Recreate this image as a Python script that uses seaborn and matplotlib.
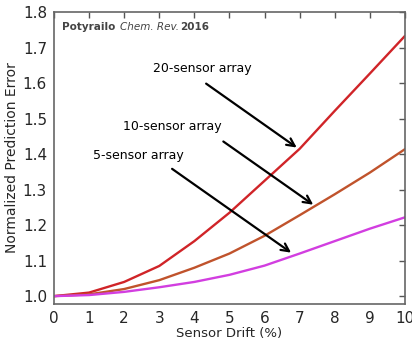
import numpy as np
import pandas as pd
import matplotlib
matplotlib.use("Agg")
import matplotlib.pyplot as plt
import seaborn as sns

# values
drift = [0, 1, 2, 3, 4, 5, 6, 7, 8, 9, 10]
err_20 = [1.0, 1.01, 1.04, 1.085, 1.155, 1.235, 1.325, 1.415, 1.522, 1.627, 1.733]
err_10 = [1.0, 1.005, 1.02, 1.045, 1.08, 1.12, 1.17, 1.228, 1.287, 1.348, 1.414]
err_5 = [1.0, 1.003, 1.012, 1.025, 1.04, 1.06, 1.086, 1.12, 1.155, 1.19, 1.222]
series = ["20-sensor array", "10-sensor array", "5-sensor array"]
colors = ["#d02428", "#c0532c", "#d23ee0"]

df = pd.concat([
    pd.DataFrame({"drift": drift, "err": e, "array": s})
    for e, s in zip([err_20, err_10, err_5], series)
])

sns.set_theme(style="white")
plt.rcParams['font.family'] = ['DejaVu Sans']

fig = plt.figure(figsize=(4.12, 3.45), dpi=100)
ax = fig.add_axes([0.131, 0.119, 0.852, 0.846])
sns.lineplot(data=df, x="drift", y="err", hue="array", palette=colors,
             linewidth=1.7, legend=False, ax=ax)

ax.set_xlim(0, 10)
ax.set_ylim(0.978, 1.8)
ax.set_xticks(range(0, 11))
ax.set_yticks([1.0, 1.1, 1.2, 1.3, 1.4, 1.5, 1.6, 1.7, 1.8])
ax.set_yticklabels(["1.0", "1.1", "1.2", "1.3", "1.4", "1.5", "1.6", "1.7", "1.8"])
ax.tick_params(direction="in", top=True, right=True, length=4, width=1,
               color="#555555", labelsize=11, pad=5)
for sp in ax.spines.values():
    sp.set_color("#666666")
    sp.set_linewidth(1.2)
ax.set_xlabel("Sensor Drift (%)", fontsize=9.5, labelpad=1)
ax.set_ylabel("Normalized Prediction Error", fontsize=10, labelpad=3)

# citation, pieces chained one after another
t1 = ax.text(0.023, 0.949, "Potyrailo", transform=ax.transAxes, fontsize=7.5,
             fontweight="bold", color="#444444", va="center")
t2 = ax.annotate("Chem. Rev.", xy=(1, 0.5), xycoords=t1, xytext=(3, 0),
                 textcoords="offset points", fontsize=7.5, style="italic",
                 color="#444444", va="center")
ax.annotate("2016", xy=(1, 0.5), xycoords=t2, xytext=(1, 0),
            textcoords="offset points", fontsize=7.5, fontweight="bold",
            color="#444444", va="center")

# labels with arrows
arrows = [
    ("20-sensor array", (2.82, 1.642), (6.98, 1.414), (4.27, 1.603)),
    ("10-sensor array", (1.97, 1.479), (7.45, 1.253), (4.76, 1.44)),
    ("5-sensor array", (1.11, 1.397), (6.82, 1.118), (3.3, 1.363)),
]
for label, pos, tip, start in arrows:
    ax.text(pos[0], pos[1], label, fontsize=9, color="black", va="center")
    ax.annotate("", xy=tip, xytext=start,
                arrowprops=dict(arrowstyle="->", color="black", lw=1.6,
                                mutation_scale=14))

fig.savefig("out.png", dpi=100)
